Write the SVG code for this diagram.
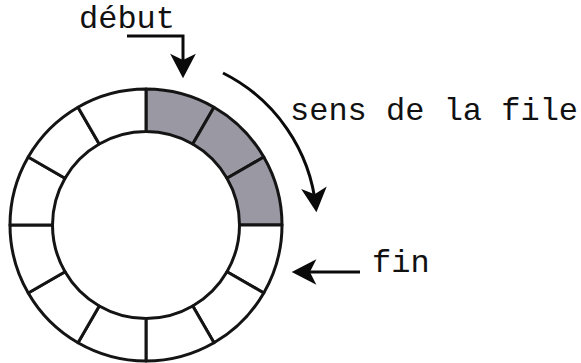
<svg xmlns="http://www.w3.org/2000/svg" width="581" height="363" viewBox="0 0 581 363">
<style>
.cell{stroke:#141414;stroke-width:3;stroke-linejoin:round;fill:#ffffff}
.full{fill:#9a98a2}
.conn{fill:none;stroke:#0a0a0a;stroke-width:3}
.lbl{font-family:"Courier New","Nimbus Mono PS","Liberation Mono",monospace;font-size:32px;fill:#111}
</style>
<defs>
<marker id="head" markerUnits="userSpaceOnUse" markerWidth="30" markerHeight="30" viewBox="-22 -13 28 26" refX="0" refY="0" orient="auto" overflow="visible">
<path d="M4,0 L-19,-12 L-13,0 L-19,12 Z" fill="#0a0a0a"/>
</marker>
</defs>
<rect width="581" height="363" fill="#ffffff"/>
<g id="ring">
<g id="cell0"><path class="cell full" d="M146,89 A136,136 0 0 1 214,107.22 L192.75,144.03 A93.5,93.5 0 0 0 146,131.5 Z"/></g>
<g id="cell1"><path class="cell full" d="M214,107.22 A136,136 0 0 1 263.78,157 L226.97,178.25 A93.5,93.5 0 0 0 192.75,144.03 Z"/></g>
<g id="cell2"><path class="cell full" d="M263.78,157 A136,136 0 0 1 282,225 L239.5,225 A93.5,93.5 0 0 0 226.97,178.25 Z"/></g>
<g id="cell3"><path class="cell" d="M282,225 A136,136 0 0 1 263.78,293 L226.97,271.75 A93.5,93.5 0 0 0 239.5,225 Z"/></g>
<g id="cell4"><path class="cell" d="M263.78,293 A136,136 0 0 1 214,342.78 L192.75,305.97 A93.5,93.5 0 0 0 226.97,271.75 Z"/></g>
<g id="cell5"><path class="cell" d="M214,342.78 A136,136 0 0 1 146,361 L146,318.5 A93.5,93.5 0 0 0 192.75,305.97 Z"/></g>
<g id="cell6"><path class="cell" d="M146,361 A136,136 0 0 1 78,342.78 L99.25,305.97 A93.5,93.5 0 0 0 146,318.5 Z"/></g>
<g id="cell7"><path class="cell" d="M78,342.78 A136,136 0 0 1 28.22,293 L65.03,271.75 A93.5,93.5 0 0 0 99.25,305.97 Z"/></g>
<g id="cell8"><path class="cell" d="M28.22,293 A136,136 0 0 1 10,225 L52.5,225 A93.5,93.5 0 0 0 65.03,271.75 Z"/></g>
<g id="cell9"><path class="cell" d="M10,225 A136,136 0 0 1 28.22,157 L65.03,178.25 A93.5,93.5 0 0 0 52.5,225 Z"/></g>
<g id="cell10"><path class="cell" d="M28.22,157 A136,136 0 0 1 78,107.22 L99.25,144.03 A93.5,93.5 0 0 0 65.03,178.25 Z"/></g>
<g id="cell11"><path class="cell" d="M78,107.22 A136,136 0 0 1 146,89 L146,131.5 A93.5,93.5 0 0 0 99.25,144.03 Z"/></g>
</g>
<g id="connectors">
<path class="conn" d="M127,36 H183 V74" marker-end="url(#head)"/>
<path class="conn" d="M223,73 A170,170 0 0 1 316,208" marker-end="url(#head)"/>
<path class="conn" d="M360,272 H296" marker-end="url(#head)"/>
</g>
<g id="labels">
<text class="lbl" x="79" y="28">début</text>
<text class="lbl" x="290" y="120">sens de la file</text>
<text class="lbl" x="372" y="272">fin</text>
</g>
</svg>
